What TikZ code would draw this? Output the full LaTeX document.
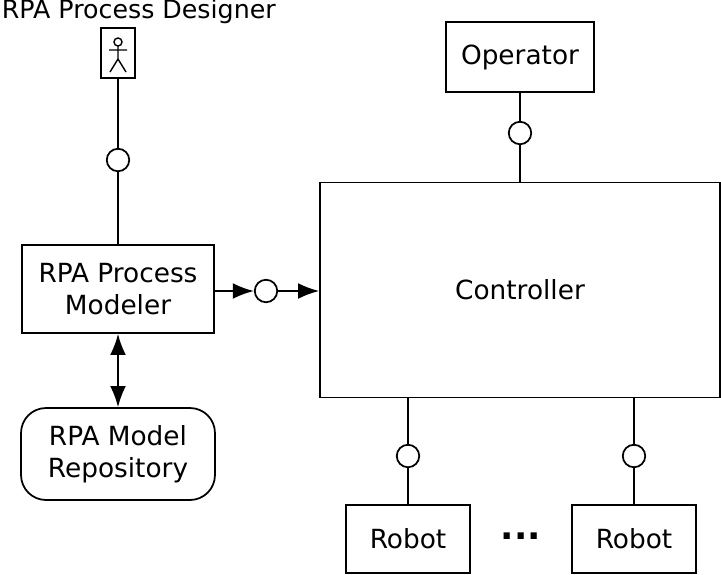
\documentclass[tikz,border=0pt]{standalone}
\usepackage{fontspec}
\setmainfont{DejaVu Sans}
\usetikzlibrary{arrows.meta,positioning}
\begin{document}
\begin{tikzpicture}
[x=0.02cm, y=-0.02cm, >={Latex[length=12pt,width=9pt]}, line width=1pt,
 every node/.style={font=\fontsize{15}{18}\selectfont},
 box/.style={draw, rectangle, align=center, inner sep=0pt},
 port/.style={draw, circle, minimum size=0.45cm, inner sep=0pt}]
% Bounding box
\useasboundingbox (0,0) rectangle (721,575);

% Nodes placement
\node [box, minimum width=0.68cm, minimum height=1cm] (designer) at (118,53) {};
\node [inner sep=0pt, anchor=west, font=\fontsize{14.4}{17}\selectfont] (designerlabel) at (1,12) {RPA Process Designer};
\node [port] (p1) at (118,160) {};
\node [box, minimum width=3.84cm, minimum height=1.76cm] (modeler) at (118,289) {RPA Process\\Modeler};
\node [box, rounded corners=0.5cm, minimum width=3.88cm, minimum height=1.84cm] (repo) at (118,454) {RPA Model\\Repository};
\node [port] (p2) at (266,291) {};
\node [box, minimum width=8cm, minimum height=4.3cm] (controller) at (520,290) {Controller};
\node [box, minimum width=2.96cm, minimum height=1.4cm] (operator) at (520,57) {Operator};
\node [port] (p3) at (520,133) {};
\node [port] (p4) at (408,456) {};
\node [port] (p5) at (634,456) {};
\node [box, minimum width=2.48cm, minimum height=1.36cm] (robot1) at (408,539) {Robot};
\node [box, minimum width=2.48cm, minimum height=1.36cm] (robot2) at (634,539) {Robot};
\node [font=\fontsize{20}{22}\bfseries] (dots) at (521,536) {...};

% Stick figure
\draw [line width=0.8pt] (118,42) circle (4);
\draw [line width=0.8pt] (118,46) -- (118,59) (109,50) -- (127,50)
  (110,72) -- (118,59) -- (126,72);

% Draw edges
\draw (designer) -- (p1);
\draw (p1) -- (modeler);
\draw [->] (modeler.east |- p2) -- (p2);
\draw [->] (p2) -- (controller.west |- p2);
\draw [<->] (modeler) -- (repo);
\draw (operator) -- (p3);
\draw (p3) -- (controller.north -| p3);
\draw (controller.south -| p4) -- (p4);
\draw (p4) -- (robot1);
\draw (controller.south -| p5) -- (p5);
\draw (p5) -- (robot2);
\end{tikzpicture}
\end{document}
